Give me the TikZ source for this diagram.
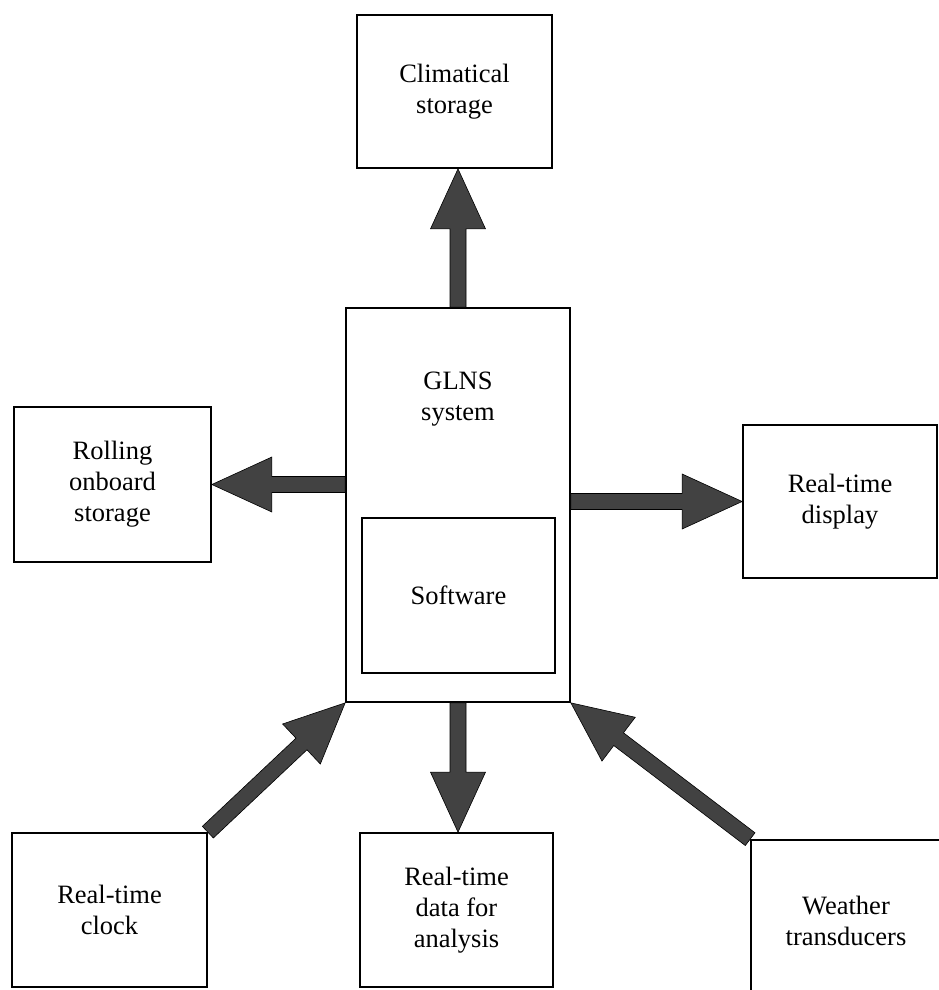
\documentclass[tikz,border=0pt]{standalone}
\usepackage{fontspec}
\setmainfont{Liberation Serif}
\usetikzlibrary{calc}

\tikzset{
  block/.style={draw=black, line width=1.7pt, rectangle, inner sep=0pt,
    align=center, font=\fontsize{26.5}{31}\selectfont},
  label/.style={inner sep=0pt, align=center, font=\fontsize{26.5}{31}\selectfont},
  fatarrowstyle/.style={fill=black!74, draw=black, line width=0.6pt, line join=miter}
}

% broad block arrow from #1 to #2 (shaft 16pt, head 55pt wide, 60pt long)
\newcommand\fatarrow[2]{%
  \coordinate (fa-s) at (#1);
  \coordinate (fa-t) at (#2);
  \coordinate (fa-b) at ($(fa-t)!60pt!(fa-s)$);
  \filldraw[fatarrowstyle]
    ($(fa-s)!8pt!90:(fa-t)$) -- ($(fa-b)!8pt!90:(fa-t)$)
    -- ($(fa-b)!27.5pt!90:(fa-t)$) -- (fa-t)
    -- ($(fa-b)!27.5pt!-90:(fa-t)$) -- ($(fa-b)!8pt!-90:(fa-t)$)
    -- ($(fa-s)!8pt!-90:(fa-t)$) -- cycle;}

\begin{document}
\begin{tikzpicture}[x=1pt, y=-1pt]
  \useasboundingbox (0,0) rectangle (938,990);

  % central unit with its software block
  \node[block, minimum width=224pt, minimum height=394pt] (glns) at (458,505) {};
  \node[label] (glnstext) at (458,399) {GLNS\\system};
  \node[block, minimum width=193pt, minimum height=155pt] (soft) at (458.5,595.5) {Software};

  % surrounding units
  \node[block, minimum width=195pt, minimum height=153pt] (clim) at (454.5,91.5) {Climatical\\storage};
  \node[block, minimum width=197pt, minimum height=155pt] (rolling) at (112.5,484.5) {Rolling\\onboard\\storage};
  \node[block, minimum width=194pt, minimum height=153pt] (display) at (840,501.5) {Real-time\\display};
  \node[block, minimum width=195pt, minimum height=154pt] (clock) at (109.5,910) {Real-time\\clock};
  \node[block, minimum width=193pt, minimum height=154pt] (data) at (456.5,910) {Real-time\\data for\\analysis};
  \node[block, minimum width=190pt, minimum height=162pt] (weather) at (846,921) {Weather\\transducers};

  % data flows
  \fatarrow{glns.north}{glns.north |- clim.south}
  \fatarrow{glns.west |- rolling.east}{rolling.east}
  \fatarrow{glns.east |- display.west}{display.west}
  \fatarrow{glns.south}{glns.south |- data.north}
  \fatarrow{clock.north east}{glns.south west}
  \fatarrow{weather.north west}{glns.south east}
\end{tikzpicture}
\end{document}
